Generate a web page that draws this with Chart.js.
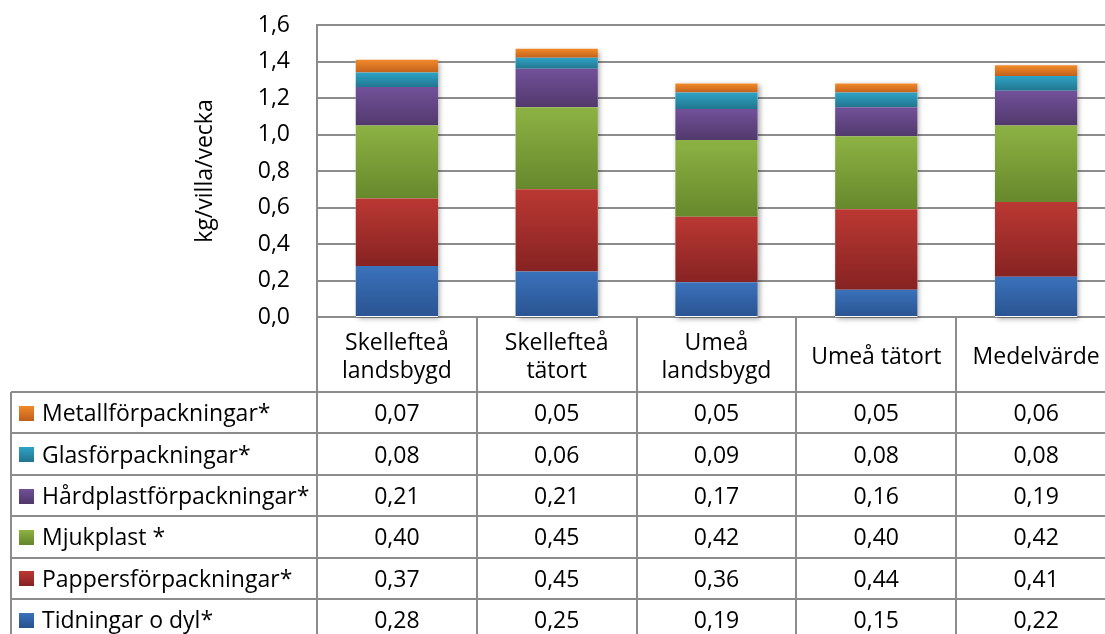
<!DOCTYPE html>
<html>
<head>
<meta charset="utf-8">
<script src="https://cdn.jsdelivr.net/npm/chart.js@4/dist/chart.umd.min.js"></script>
<style>
  html, body { margin: 0; padding: 0; background: #fff; overflow: hidden; }
  canvas { display: block; }
</style>
</head>
<body>
<canvas id="chart" width="1120" height="634"></canvas>
<script>
// kategorier (x-axeln) och serier, nerifrån och upp i stapeln
const categories = [["Skellefteå", "landsbygd"], ["Skellefteå", "tätort"], ["Umeå", "landsbygd"], "Umeå tätort", "Medelvärde"];

const tidningar = [0.28, 0.25, 0.19, 0.15, 0.22];
const papper = [0.37, 0.45, 0.36, 0.44, 0.41];
const mjukplast = [0.40, 0.45, 0.42, 0.40, 0.42];
const hardplast = [0.21, 0.21, 0.17, 0.16, 0.19];
const glas = [0.08, 0.06, 0.09, 0.08, 0.08];
const metall = [0.07, 0.05, 0.05, 0.05, 0.06];

const yMin = 0, yMax = 1.6, yStep = 0.2;

const FONT = "'Open Sans', sans-serif";
const FSIZE = 23;
const GRID = "#8c8c8c";

// ljus topp / mörk botten för varje segment
const series = [
  { name: "Tidningar o dyl*", data: tidningar, top: "#3a72bb", bottom: "#2a5391" },
  { name: "Pappersförpackningar*", data: papper, top: "#bb3833", bottom: "#862322" },
  { name: "Mjukplast *", data: mjukplast, top: "#8db243", bottom: "#67882c" },
  { name: "Hårdplastförpackningar*", data: hardplast, top: "#72519a", bottom: "#51396c" },
  { name: "Glasförpackningar*", data: glas, top: "#2ea3c6", bottom: "#22768f" },
  { name: "Metallförpackningar*", data: metall, top: "#f28a2a", bottom: "#c2611c" }
];

const fmt = v => v.toFixed(2).replace(".", ",");

function segmentFill(c) {
  const s = series[c.datasetIndex];
  const chart = c.chart;
  if (!chart.chartArea || c.dataIndex === undefined) return s.top;
  let base = 0;
  for (let d = 0; d < c.datasetIndex; d++) base += series[d].data[c.dataIndex];
  const y = chart.scales.y;
  const y0 = y.getPixelForValue(base + s.data[c.dataIndex]);
  const y1 = y.getPixelForValue(base);
  const g = chart.ctx.createLinearGradient(0, y0, 0, y1);
  g.addColorStop(0, s.top);
  g.addColorStop(1, s.bottom);
  return g;
}

const HEADER_H = 75;   // raden med kategorinamn
const ROW_H = 41.4;
const TABLE_LEFT = 11;

function line(ctx, x1, y1, x2, y2) {
  ctx.beginPath();
  ctx.moveTo(x1, y1);
  ctx.lineTo(x2, y2);
  ctx.stroke();
}

// datatabell under diagrammet + skugga bakom staplarna
const dataTable = {
  id: "dataTable",
  beforeDatasetsDraw(chart) {
    const ctx = chart.ctx;
    const meta = chart.getDatasetMeta(series.length - 1);
    const y = chart.scales.y;
    ctx.save();
    ctx.shadowColor = "rgba(0,0,0,0.35)";
    ctx.shadowBlur = 5;
    ctx.shadowOffsetX = 2;
    ctx.shadowOffsetY = 2;
    ctx.fillStyle = "#fff";
    meta.data.forEach(bar => {
      const bottom = y.getPixelForValue(0);
      ctx.fillRect(bar.x - bar.width / 2, bar.y, bar.width, bottom - bar.y);
    });
    ctx.restore();
  },
  afterDraw(chart) {
    const { ctx, chartArea, scales: { x } } = chart;
    const colW = (chartArea.right - chartArea.left) / categories.length;
    const headBottom = chartArea.bottom + HEADER_H;
    const rows = series.slice().reverse();

    ctx.save();
    ctx.strokeStyle = GRID;
    ctx.lineWidth = 2;
    for (let i = 0; i <= categories.length; i++) {
      const xx = Math.round(chartArea.left + i * colW);
      line(ctx, xx, chartArea.bottom, xx, chart.height);
    }
    for (let r = 0; r < rows.length; r++) {
      const yy = Math.round(headBottom + r * ROW_H);
      line(ctx, TABLE_LEFT, yy, chartArea.right, yy);
    }
    line(ctx, TABLE_LEFT, headBottom, TABLE_LEFT, chart.height);

    ctx.font = FSIZE + "px " + FONT;
    ctx.textBaseline = "middle";
    ctx.fillStyle = "#000";
    rows.forEach((s, r) => {
      const cy = headBottom + r * ROW_H + ROW_H / 2;
      // förklaringsruta
      const g = ctx.createLinearGradient(0, cy - 7, 0, cy + 7);
      g.addColorStop(0, s.top);
      g.addColorStop(1, s.bottom);
      ctx.fillStyle = g;
      ctx.fillRect(19, Math.round(cy - 7), 15, 15);
      ctx.fillStyle = "#000";
      ctx.textAlign = "left";
      ctx.fillText(s.name, 42, cy + 2);
      ctx.textAlign = "center";
      s.data.forEach((v, i) => ctx.fillText(fmt(v), x.getPixelForValue(i), cy + 2));
    });
    ctx.restore();
  }
};

new Chart(document.getElementById("chart"), {
  type: "bar",
  data: {
    labels: categories,
    datasets: series.map(s => ({
      label: s.name,
      data: s.data,
      backgroundColor: segmentFill,
      borderWidth: 0,
      barPercentage: 0.515,
      categoryPercentage: 1
    }))
  },
  options: {
    responsive: false,
    animation: false,
    layout: { padding: { top: 25, right: 4, left: 0, bottom: 0 } },
    plugins: {
      legend: { display: false },
      tooltip: { enabled: false }
    },
    scales: {
      x: {
        stacked: true,
        grid: { display: false },
        border: { display: false },
        ticks: {
          color: "#000",
          font: { family: FONT, size: FSIZE, lineHeight: 1.217 },
          padding: 18,
          crossAlign: "center",
          maxRotation: 0,
          autoSkip: false
        },
        afterFit(scale) { scale.height = 317; }
      },
      y: {
        stacked: true,
        min: yMin,
        max: yMax,
        // osynliga streck ger avståndet mellan axel och etiketter
        grid: { color: GRID, lineWidth: 2, drawTicks: true, tickLength: 27, tickColor: "rgba(0,0,0,0)" },
        border: { display: true, color: GRID, width: 2 },
        ticks: {
          stepSize: yStep,
          color: "#000",
          padding: 0,
          font: { family: FONT, size: FSIZE },
          callback: v => v.toFixed(1).replace(".", ",")
        },
        title: {
          display: true,
          text: "kg/villa/vecka",
          color: "#000",
          font: { family: FONT, size: FSIZE },
          padding: { top: 192, bottom: 0 }
        },
        afterFit(scale) { scale.width = 317; }
      }
    }
  },
  plugins: [dataTable]
});
</script>
</body>
</html>
